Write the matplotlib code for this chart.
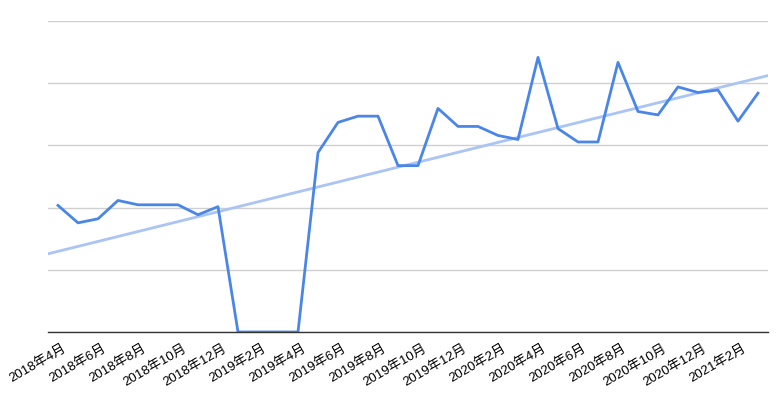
import matplotlib.pyplot as plt
import matplotlib.transforms as mtransforms
import numpy as np

plt.rcParams['font.family'] = ['Liberation Sans', 'Noto Sans CJK SC']

months = ["2018年4月", "2018年5月", "2018年6月", "2018年7月", "2018年8月", "2018年9月",
          "2018年10月", "2018年11月", "2018年12月", "2019年1月", "2019年2月", "2019年3月",
          "2019年4月", "2019年5月", "2019年6月", "2019年7月", "2019年8月", "2019年9月",
          "2019年10月", "2019年11月", "2019年12月", "2020年1月", "2020年2月", "2020年3月",
          "2020年4月", "2020年5月", "2020年6月", "2020年7月", "2020年8月", "2020年9月",
          "2020年10月", "2020年11月", "2020年12月", "2021年1月", "2021年2月", "2021年3月"]
values = [40.7, 35.1, 36.4, 42.3, 40.9, 40.9, 40.9, 37.7, 40.3, 0, 0, 0,
          0, 57.7, 67.4, 69.4, 69.4, 53.5, 53.5, 71.9, 66.1, 66.1, 63.2, 61.9,
          88.3, 65.4, 61.1, 61.1, 86.7, 70.9, 69.8, 78.8, 77.0, 77.8, 67.8, 76.8]

x = np.arange(len(months))
coef = np.polyfit(x, values, 1)  # trendline

fig = plt.figure(figsize=(7.82, 3.93), dpi=100)
ax = fig.add_axes([48 / 782, 1 - 332 / 393, 720 / 782, 311 / 393])

xt = np.array([-0.5, len(months) - 0.5])
ax.plot(xt, np.polyval(coef, xt), color='#a9c4f5', lw=2, zorder=2)
ax.plot(x, values, color='#4a86e8', lw=2, zorder=3)

ax.set_xlim(-0.5, len(months) - 0.5)
ax.set_ylim(0, 100)
ax.set_yticks([0, 20, 40, 60, 80, 100])
ax.yaxis.grid(True, color='#d0d0d0', lw=1)
ax.set_axisbelow(True)
ax.tick_params(axis='y', left=False, labelleft=False)
ax.tick_params(axis='x', length=0, pad=6)
ax.set_xticks(x[::2])
ax.set_xticklabels(months[::2], rotation=30, ha='right', rotation_mode='anchor', fontsize=9.5)
offset = mtransforms.ScaledTranslation(4 / 100, -2 / 100, fig.dpi_scale_trans)
for lbl in ax.get_xticklabels():
    lbl.set_transform(lbl.get_transform() + offset)

for s in ['top', 'left', 'right']:
    ax.spines[s].set_visible(False)
ax.spines['bottom'].set_color('#333333')
ax.spines['bottom'].set_linewidth(1)
ax.spines['bottom'].set_zorder(4)

fig.savefig('out.png', dpi=100)
